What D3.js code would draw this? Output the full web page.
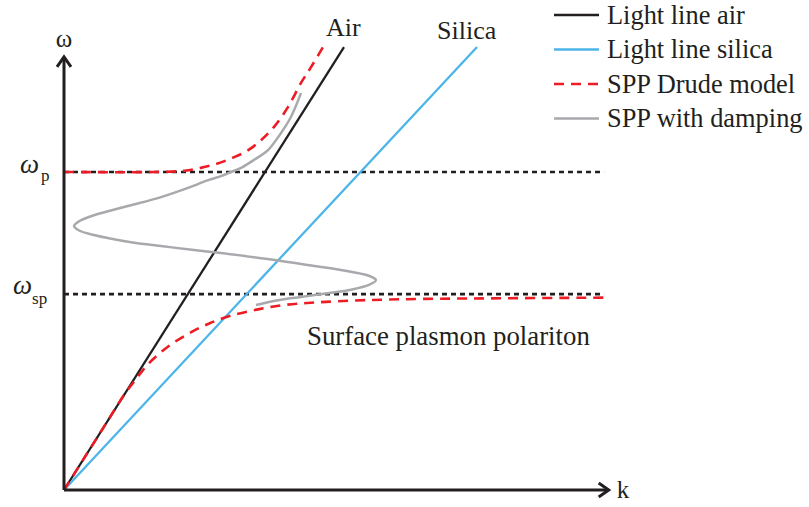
<!DOCTYPE html>
<html>
<head>
<meta charset="utf-8">
<script src="https://cdn.jsdelivr.net/npm/d3@7"></script>
<style>
  html, body { margin: 0; padding: 0; background: #fff; }
  svg { display: block; }
  text { font-family: "Liberation Serif", "Times New Roman", serif; fill: #231f20; }
</style>
</head>
<body>
<svg id="chart" width="809" height="507"></svg>
<script>
// ---- data (k in units of ωp/c, ω in units of ωp) ----
const omegaP = 1.0;
const omegaSP = 0.616;
const kMax = 2.71;        // end of k axis
const omegaMax = 1.362;   // end of ω axis
const levelEnd = 2.687;   // extent of the dashed ωp / ωsp lines

const lightAir = [[0, 0], [1.393, 1.393]];
const lightSilica = [[0, 0], [2.055, 1.393]];

const sppUpper = [
  [0, 1.0], [0.45, 1.0], [0.6, 1.004], [0.68, 1.013], [0.76, 1.026], [0.84, 1.045],
  [0.91, 1.066], [0.98, 1.1], [1.045, 1.142], [1.114, 1.204], [1.179, 1.28],
  [1.229, 1.33], [1.289, 1.393]
];
const sppLower = [
  [0, 0], [0.1, 0.1], [0.2, 0.2], [0.3, 0.3], [0.36, 0.35], [0.42, 0.397], [0.52, 0.452],
  [0.62, 0.492], [0.72, 0.523], [0.83, 0.548], [0.965, 0.568], [1.1, 0.582],
  [1.26, 0.59], [1.5, 0.597], [1.8, 0.601], [2.2, 0.603], [2.69, 0.605]
];
const sppDamped = [
  [1.179, 1.248], [1.129, 1.173], [1.08, 1.123], [1.015, 1.069], [0.945, 1.038],
  [0.881, 1.013], [0.831, 1.0], [0.781, 0.987], [0.706, 0.972], [0.647, 0.957],
  [0.483, 0.921], [0.318, 0.893], [0.149, 0.864], [0.075, 0.845], [0.05, 0.83],
  [0.075, 0.816], [0.149, 0.802], [0.318, 0.781], [0.483, 0.767], [0.647, 0.755],
  [0.781, 0.745], [1.065, 0.722], [1.264, 0.703], [1.428, 0.686], [1.52, 0.673],
  [1.552, 0.66], [1.517, 0.645], [1.428, 0.63], [1.313, 0.619], [1.179, 0.607],
  [1.065, 0.597], [0.955, 0.582]
];

const legendNames = ["Light line air", "Light line silica", "SPP Drude model", "SPP with damping"];
const legendColors = ["#231f20", "#4cb5e8", "#ed1c24", "#a7a9ac"];
const legendDash = [null, null, "10,7", null];

// ---- scales ----
const svg = d3.select("#chart");
const x = d3.scaleLinear().domain([0, 1]).range([64, 265]);
const y = d3.scaleLinear().domain([0, 1]).range([490, 172]);

const line = d3.line().x(d => x(d[0])).y(d => y(d[1]));
const smooth = d3.line().x(d => x(d[0])).y(d => y(d[1])).curve(d3.curveCatmullRom.alpha(0.5));

// dashed level lines
[omegaP, omegaSP].forEach(w => {
  svg.append("path")
    .attr("d", line([[0, w], [levelEnd, w]]))
    .attr("stroke", "#231f20").attr("stroke-width", 2.6)
    .attr("stroke-dasharray", "5,4").attr("fill", "none");
});

// light lines
svg.append("path").attr("d", line(lightAir))
  .attr("stroke", legendColors[0]).attr("stroke-width", 2.3).attr("fill", "none");
svg.append("path").attr("d", line(lightSilica))
  .attr("stroke", legendColors[1]).attr("stroke-width", 2.3).attr("fill", "none");

// damped SPP
svg.append("path").attr("d", smooth(sppDamped))
  .attr("stroke", legendColors[3]).attr("stroke-width", 2.5).attr("fill", "none");

// Drude SPP
[sppUpper, sppLower].forEach(b => {
  svg.append("path").attr("d", smooth(b))
    .attr("stroke", legendColors[2]).attr("stroke-width", 2.6)
    .attr("stroke-dasharray", "10,7").attr("fill", "none");
});

// axes with open arrowheads
const axisColor = "#231f20";
svg.append("path").attr("d", line([[0, 0], [0, omegaMax]]))
  .attr("stroke", axisColor).attr("stroke-width", 3).attr("fill", "none");
svg.append("path").attr("d", line([[0, 0], [kMax, 0]]))
  .attr("stroke", axisColor).attr("stroke-width", 3).attr("fill", "none");
const ty = y(omegaMax), tx = x(kMax);
svg.append("path").attr("d", `M${x(0) - 7},${ty + 10} L${x(0)},${ty} L${x(0) + 7},${ty + 10}`)
  .attr("stroke", axisColor).attr("stroke-width", 3).attr("fill", "none")
  .attr("stroke-linejoin", "miter");
svg.append("path").attr("d", `M${tx - 10},${y(0) - 7} L${tx},${y(0)} L${tx - 10},${y(0) + 7}`)
  .attr("stroke", axisColor).attr("stroke-width", 3).attr("fill", "none")
  .attr("stroke-linejoin", "miter");

// axis labels
svg.append("text").attr("x", x(0)).attr("y", 47).attr("text-anchor", "middle")
  .attr("font-size", 25).text("ω");
svg.append("text").attr("x", tx + 8).attr("y", y(0) + 8).attr("font-size", 25).text("k");

// ωp, ωsp labels
const lp = svg.append("text").attr("x", 20).attr("y", y(omegaP) + 1).attr("font-size", 27);
lp.append("tspan").attr("font-style", "italic").text("ω");
lp.append("tspan").attr("font-size", 17).attr("dx", 2).attr("dy", 8).text("p");
const lsp = svg.append("text").attr("x", 13).attr("y", y(omegaSP)).attr("font-size", 27);
lsp.append("tspan").attr("font-style", "italic").text("ω");
lsp.append("tspan").attr("font-size", 17).attr("dx", 0).attr("dy", 10).text("sp");

// annotations
svg.append("text").attr("x", 326).attr("y", 36).attr("font-size", 26).text("Air");
svg.append("text").attr("x", 437).attr("y", 39).attr("font-size", 26).text("Silica");
svg.append("text").attr("x", 307).attr("y", 345).attr("font-size", 26.8).text("Surface plasmon polariton");

// legend
const lg = svg.append("g");
legendNames.forEach((name, i) => {
  const cy = 15 + i * 34.5;
  lg.append("line").attr("x1", 554).attr("x2", 599).attr("y1", cy).attr("y2", cy)
    .attr("stroke", legendColors[i]).attr("stroke-width", 2.6)
    .attr("stroke-dasharray", legendDash[i]);
  lg.append("text").attr("x", 607).attr("y", cy + 8.5).attr("font-size", 26.4).text(name);
});
</script>
</body>
</html>
